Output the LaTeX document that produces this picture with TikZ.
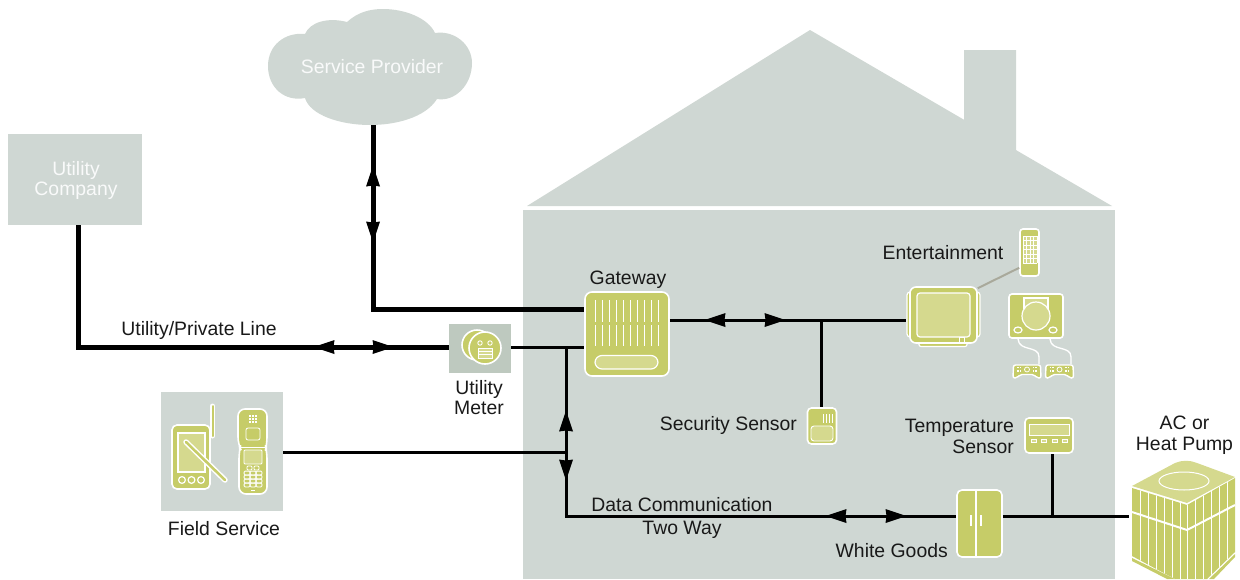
\documentclass[tikz,border=0pt]{standalone}
\usepackage{fontspec}
\setmainfont{Liberation Sans}
\definecolor{house}{HTML}{CFD7D3}
\definecolor{olive}{HTML}{C6CC68}
\definecolor{lolive}{HTML}{D5D98E}
\definecolor{meterbg}{HTML}{BEC9BF}
\definecolor{cordgray}{HTML}{A9A99B}
\tikzset{
  lbl/.style={font=\fontsize{19.4}{20.8}\selectfont,align=center,text=black!90,inner sep=0pt},
  wlbl/.style={font=\fontsize{19.4}{20.8}\selectfont,align=center,text=white!88!house,inner sep=0pt},
  bg/.style={fill=house,draw=none},
  iconbox/.style={fill=olive,draw=white,line width=1.6pt,rounded corners=4pt,inner sep=0pt},
  lpad/.style={fill=lolive,draw=white,line width=1.2pt},
  wl/.style={draw=white,line width=1.2pt},
  thickline/.style={line width=5pt,black},
  thinline/.style={line width=3pt,black},
  pics/tip/.style={code={\fill[black] (-10.5,-7) -- (10.5,0) -- (-10.5,7) -- (-9.5,0) -- cycle;}},
}
\begin{document}
\begin{tikzpicture}[x=1pt,y=-1pt]
\useasboundingbox (0,0) rectangle (1240,579);
% house
\fill[house] (810,30) -- (1112,206) -- (527,206) -- cycle;
\fill[house] (964,50) -- (1016,50) -- (1016,151) -- (964,121) -- cycle;
\fill[house] (523,210) rectangle (1115,579);
% cloud
\fill[house] (305,34) .. controls (310,22) and (328,17) .. (347,22)
 .. controls (358,12) and (370,9) .. (383,9) .. controls (405,9) and (428,18) .. (435,33)
 .. controls (455,30) and (472,45) .. (472,63) .. controls (472,85) and (455,102) .. (437,99)
 .. controls (425,118) and (395,125) .. (370,125) .. controls (340,125) and (310,115) .. (305,98)
 .. controls (285,102) and (268,88) .. (268,66) .. controls (268,45) and (285,32) .. (305,34) -- cycle;
\node[wlbl] (provider) at (372,67) {Service Provider};
\coordinate (cloudfoot) at (373,125);
% utility company
\node[bg,minimum width=134pt,minimum height=91pt,inner sep=0pt] (company) at (75,179.5) {};
\node[wlbl] (companytext) at (76,180.5) {Utility\\Company};
% meter
\node[fill=meterbg,minimum width=62pt,minimum height=49pt,inner sep=0pt] (meter) at (480,348.5) {};
\fill[olive,draw=white,line width=1.6pt] (477,345) circle (15);
\fill[olive,draw=white,line width=1.6pt] (485,348) circle (16);
\draw[wl,line width=.9pt] (480,343) circle (2.2) (490,343) circle (2.2);
\fill[lolive,draw=white,line width=.8pt] (478,348) rectangle (492,358);
\draw[white,line width=.7pt] (478,351) -- (492,351) (478,354) -- (492,354);
\node[lbl] (meterlabel) at (479,397.5) {Utility\\Meter};
% field service
\node[bg,minimum width=122pt,minimum height=119pt,inner sep=0pt] (field) at (222,451.5) {};
\node[lbl] (fieldlabel) at (224,528.5) {Field Service};
% PDA
\draw[iconbox,rounded corners=5pt] (172,425) rectangle (210,489);
\draw[lpad] (178,433) rectangle (205,472);
\foreach \x in {182,191.5,201} \draw[wl] (\x,480) circle (3.4);
\draw[white,line width=5pt,line cap=round] (212.5,406) -- (212.5,436);
\draw[olive,line width=2pt,line cap=round] (212.5,406) -- (212.5,436);
\draw[white,line width=5.5pt,line cap=round] (186,442) -- (225,480);
\draw[olive,line width=2.5pt,line cap=round] (186,442) -- (225,480);
% phone
\draw[fill=olive,draw=white,line width=1.6pt,rounded corners=7pt] (238,409) -- (267,409) -- (267,444) [rounded corners=1pt] -- (266,448) [rounded corners=7pt] -- (267,452) -- (267,494) -- (239,494) -- (239,452) [rounded corners=1pt] -- (240,448) [rounded corners=7pt] -- (238,444) -- cycle;
\draw[white,line width=1pt] (240,447.5) -- (266,447.5);
\draw[wl,line width=.8pt,rounded corners=2pt] (246,428) -- (246,440) -- (260,440) -- (260,428) -- cycle;
\foreach \x in {250,253,256} \foreach \y in {416,419,422} \fill[white] (\x-1,\y-.8) rectangle (\x+1,\y+.8);
\draw[lpad,line width=.8pt,rounded corners=1pt] (244,450) rectangle (262,464);
\foreach \x in {247,253,259} \foreach \y in {473,477,481,485} \draw[wl,line width=.8pt,rounded corners=1pt] (\x-2.9,\y-1.9) rectangle (\x+2.9,\y+1.9);
\draw[wl,line width=.8pt,rounded corners=1pt] (247,466) rectangle (252,470) (254,466) rectangle (259,470);
\draw[white,line width=1pt] (251,490) -- (255,490);
% gateway
\node[iconbox,rounded corners=7pt,minimum width=84pt,minimum height=84pt] (gateway) at (627,334) {};
\foreach \x in {595,602,609,616,623,630,637,644,651,658} \draw[white,line width=1pt] (\x,300) -- (\x,322) (\x,325) -- (\x,346);
\draw[lpad,rounded corners=7pt] (595,355.5) rectangle (658,369);
\node[lbl] (gatewaylabel) at (628,280) {Gateway};
% entertainment
\node[lbl] (entlabel) at (943,253) {Entertainment};
\node[iconbox,rounded corners=3pt,line width=1.2pt,minimum width=73pt,minimum height=45pt] (tvside) at (943.5,314.5) {};
\draw[iconbox,rounded corners=2pt,line width=1.2pt] (919,340) rectangle (967,346.5);
\node[iconbox,rounded corners=6pt,minimum width=67pt,minimum height=56pt] (tv) at (943.5,315) {};
\draw[lpad,rounded corners=3pt] (917,293) rectangle (970,337);
\draw[white,line width=.9pt] (959,337) rectangle (964,342);
\node[iconbox,rounded corners=3pt,minimum width=19pt,minimum height=47pt] (remote) at (1029.5,252.5) {};
\fill[lolive] (1023,236) rectangle (1037,263);
\foreach \x in {1023,1026.5,1030,1033.5,1037} \draw[white,line width=.8pt] (\x,236) -- (\x,263);
\foreach \y in {236,240.5,245,249.5,254,258.5,263} \draw[white,line width=.8pt] (1023,\y) -- (1037,\y);
\draw[cordgray,line width=2pt] ([yshift=-2pt]tv.north east) -- ([yshift=9pt]remote.south west);
\node[iconbox,rounded corners=3pt,minimum width=54pt,minimum height=44pt] (console) at (1036,316) {};
\draw[wl,fill=lolive] (1024,309) |- (1048,298) -- (1048,309);
\fill[lolive,draw=white,line width=1.2pt] (1036,316) circle (14);
\draw[wl] (1018,330) ellipse (4 and 3) (1053,330) ellipse (4 and 3);
\foreach \c/\n in {1027/padone,1059.5/padtwo} {
  \coordinate (\n) at (\c,371);
  \draw[fill=olive,draw=white,line width=1.4pt,rounded corners=2pt] (\c-13.5,365) -- (\c+13.5,365) -- (\c+14,378) -- (\c+10,378) -- (\c+7,374.5) -- (\c-7,374.5) -- (\c-10,378) -- (\c-14,378) -- cycle;
  \draw[white,line width=.8pt] (\c,369.5) circle (2.5);
  \foreach \d in {-9,-6.5,6.5,9} \foreach \y in {367.5,371} \fill[white] (\c+\d-.7,\y-.7) rectangle (\c+\d+.7,\y+.7);
}
\draw[white,line width=1.3pt] (1018,339) .. controls (1019,352) and (1039,345) .. (1039,357) -- (1039,364);
\draw[white,line width=1.3pt] (1050,339) .. controls (1051,352) and (1071,345) .. (1071,357) -- (1071,364);
% security
\node[lbl,anchor=east] (seclabel) at (797,425) {Security Sensor};
\node[iconbox,minimum width=29pt,minimum height=36pt] (security) at (822,426) {};
\draw[lpad,line width=.9pt,rounded corners=3pt] (811,426) rectangle (833,441);
\foreach \x in {823,826,829,832} \draw[white,line width=.9pt] (\x,414) -- (\x,423);
% temperature
\node[lbl,align=right,anchor=east] (templabel) at (1014,436.5) {Temperature\\Sensor};
\node[iconbox,minimum width=48pt,minimum height=35pt] (temp) at (1049,435.5) {};
\draw[lpad,line width=.9pt] (1029,424) rectangle (1069,435);
\foreach \x in {1034,1044,1055,1065} \draw[white,fill=lolive,line width=.8pt] (\x-2.5,439.5) rectangle (\x+2.5,442.5);
% white goods
\node[iconbox,rounded corners=5pt,minimum width=45pt,minimum height=67pt] (goods) at (979.5,523.5) {};
\draw[white,line width=1.2pt] (976,490) -- (976,557) (971,515) -- (971,526) (981,515) -- (981,526);
\node[lbl,anchor=east] (goodslabel) at (948,551) {White Goods};
% AC
\node[lbl] (aclabel) at (1184.5,435) {AC or\\Heat Pump};
\fill[lolive] (1132,486) -- (1175,463) .. controls (1182,460) and (1190,460) .. (1197,463) -- (1235,477) -- (1187,503) -- cycle;
\draw[white,line width=1pt] (1184,481) ellipse (25 and 9);
\fill[olive] (1132,488) -- (1187,505) -- (1187,579) -- (1175,579) -- (1132,556) -- cycle;
\fill[olive] (1187,505) -- (1235,478) -- (1235,552) -- (1207,579) -- (1187,579) -- cycle;
\begin{scope}
\clip (1132,488) -- (1187,505) -- (1235,478) -- (1235,552) -- (1207,579) -- (1175,579) -- (1132,556) -- cycle;
\foreach \x in {1140,1148,1156,1164,1172,1180,1187,1195,1203,1211,1219,1227} \draw[white,line width=1pt] (\x,470) -- (\x,579);
\end{scope}
\draw[white,line width=2pt] (1132,512) -- (1187,530) -- (1235,505);
\fill[olive] (1132,558) -- (1175,579) -- (1167,579) -- (1132,561) -- cycle;
\fill[olive] (1235,554) -- (1209,579) -- (1214,579) -- (1235,557) -- cycle;
\coordinate (ac) at (1129,516);
% connectors
\draw[thickline] (company.south -| 78,0) |- (meter.west |- 0,347);
\draw[thickline] (cloudfoot) |- (gateway.west |- 0,309);
\draw[thinline] (meter.east |- 0,347) -- (gateway.west |- 0,347);
\coordinate (junction) at (566,347);
\draw[thinline] (junction) |- (goods.west |- 0,516);
\draw[thinline] (field.east |- 0,452) -- (566,452);
\draw[thinline] (gateway.east |- 0,320) -- (tvside.west |- 0,320);
\draw[thinline] (821,320) -- (security.north -| 821,0);
\draw[thinline] (goods.east |- 0,516) -- (ac);
\draw[thinline] (1052,516) -- (temp.south -| 1052,0);
% arrow tips
\pic[rotate=180] at (324,347) {tip};
\pic at (383,347) {tip};
\pic[rotate=90] at (373,176) {tip};
\pic[rotate=-90] at (373,232) {tip};
\pic[rotate=90] at (566,421) {tip};
\pic[rotate=-90] at (566,470) {tip};
\pic[rotate=180] at (715,320) {tip};
\pic at (775,320) {tip};
\pic[rotate=180] at (836,516) {tip};
\pic at (896,516) {tip};
% line labels
\node[lbl] (linelabel) at (199,330) {Utility/Private Line};
\node[lbl] (datalabel) at (682,505) {Data Communication};
\node[lbl] (waylabel) at (682,530) {Two Way};
\end{tikzpicture}
\end{document}
